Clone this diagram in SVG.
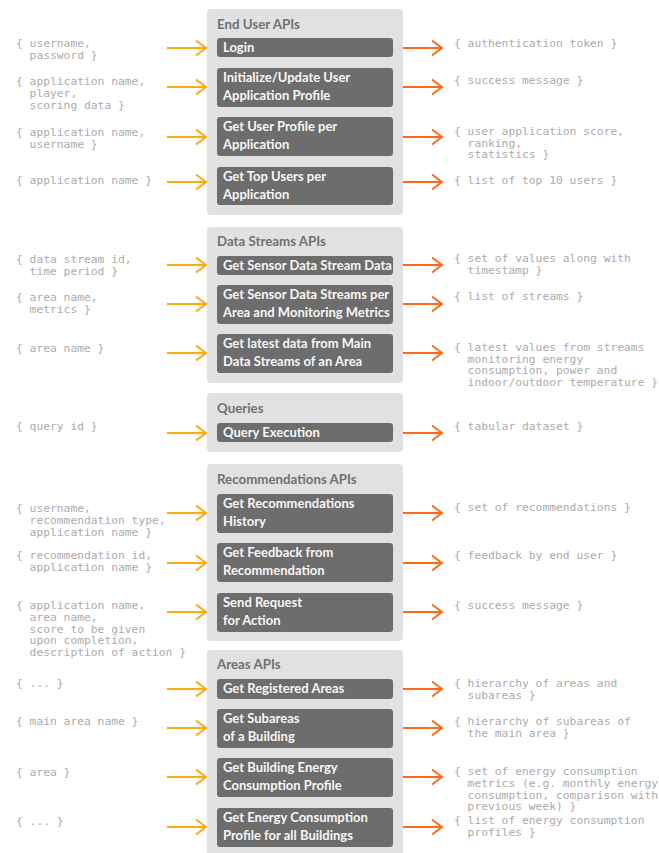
<svg xmlns="http://www.w3.org/2000/svg" width="659" height="853" viewBox="0 0 659 853">
<defs>
<style>
.panel{fill:#e1e1e1}
.box{fill:#6d6d6d}
.title{font-family:Lato,"Open Sans",sans-serif;font-weight:700;font-size:13.3px;fill:#707070}
.lbl{font-family:Lato,"Open Sans",sans-serif;font-weight:700;font-size:13px;fill:#f7f7f7}
.code{font-family:"DejaVu Sans Mono",monospace;font-size:11.3px;fill:#ababab}
.in{stroke:#ffa90a;stroke-width:2;fill:none}
.out{stroke:#ff6a13;stroke-width:2;fill:none}
</style>
<marker id="ahIn" markerUnits="userSpaceOnUse" markerWidth="14" markerHeight="20" refX="11" refY="9" orient="auto" overflow="visible">
<path d="M1,1.5 L11,9 L1,16.5" fill="none" stroke="#ffa90a" stroke-width="2"/>
</marker>
<marker id="ahOut" markerUnits="userSpaceOnUse" markerWidth="14" markerHeight="20" refX="11" refY="9" orient="auto" overflow="visible">
<path d="M1,1.5 L11,9 L1,16.5" fill="none" stroke="#ff6a13" stroke-width="2"/>
</marker>
</defs>
<rect width="659" height="853" fill="#ffffff"/>

<g id="panel-enduser">
<rect class="panel" x="207" y="9" width="196" height="206" rx="4"/>
<text class="title" x="217" y="29">End User APIs</text>
</g>
<g id="node-login"><rect class="box" x="217" y="38" width="176" height="19" rx="3"/><text class="lbl" x="223" y="52">Login</text></g>
<g id="node-init"><rect class="box" x="217" y="68" width="176" height="39" rx="3"/><text class="lbl" x="223" y="82">Initialize/Update User</text><text class="lbl" x="223" y="100">Application Profile</text></g>
<g id="node-userprofile"><rect class="box" x="217" y="117" width="176" height="39" rx="3"/><text class="lbl" x="223" y="131">Get User Profile per</text><text class="lbl" x="223" y="149">Application</text></g>
<g id="node-topusers"><rect class="box" x="217" y="167" width="176" height="38" rx="3"/><text class="lbl" x="223" y="181">Get Top Users per</text><text class="lbl" x="223" y="199">Application</text></g>

<g id="panel-datastreams">
<rect class="panel" x="207" y="227" width="196" height="156" rx="4"/>
<text class="title" x="217" y="246">Data Streams APIs</text>
</g>
<g id="node-sensordata"><rect class="box" x="217" y="256" width="176" height="19" rx="3"/><text class="lbl" x="223" y="270">Get Sensor Data Stream Data</text></g>
<g id="node-sensorstreams"><rect class="box" x="217" y="285" width="176" height="39" rx="3"/><text class="lbl" x="223" y="299">Get Sensor Data Streams per</text><text class="lbl" x="223" y="317">Area and Monitoring Metrics</text></g>
<g id="node-latest"><rect class="box" x="217" y="334" width="176" height="39" rx="3"/><text class="lbl" x="223" y="348">Get latest data from Main</text><text class="lbl" x="223" y="366">Data Streams of an Area</text></g>

<g id="panel-queries">
<rect class="panel" x="207" y="393" width="196" height="59" rx="4"/>
<text class="title" x="217" y="413">Queries</text>
</g>
<g id="node-query"><rect class="box" x="217" y="423" width="176" height="19" rx="3"/><text class="lbl" x="223" y="437">Query Execution</text></g>

<g id="panel-recommendations">
<rect class="panel" x="207" y="464" width="196" height="177" rx="4"/>
<text class="title" x="217" y="484">Recommendations APIs</text>
</g>
<g id="node-rechistory"><rect class="box" x="217" y="494" width="176" height="39" rx="3"/><text class="lbl" x="223" y="508">Get Recommendations</text><text class="lbl" x="223" y="526">History</text></g>
<g id="node-feedback"><rect class="box" x="217" y="543" width="176" height="39" rx="3"/><text class="lbl" x="223" y="557">Get Feedback from</text><text class="lbl" x="223" y="575">Recommendation</text></g>
<g id="node-request"><rect class="box" x="217" y="593" width="176" height="39" rx="3"/><text class="lbl" x="223" y="607">Send Request</text><text class="lbl" x="223" y="625">for Action</text></g>

<g id="panel-areas">
<rect class="panel" x="207" y="650" width="196" height="215" rx="4"/>
<text class="title" x="217" y="669">Areas APIs</text>
</g>
<g id="node-registered"><rect class="box" x="217" y="679" width="176" height="20" rx="3"/><text class="lbl" x="223" y="693">Get Registered Areas</text></g>
<g id="node-subareas"><rect class="box" x="217" y="709" width="176" height="39" rx="3"/><text class="lbl" x="223" y="723">Get Subareas</text><text class="lbl" x="223" y="741">of a Building</text></g>
<g id="node-buildingenergy"><rect class="box" x="217" y="758" width="176" height="39" rx="3"/><text class="lbl" x="223" y="772">Get Building Energy</text><text class="lbl" x="223" y="790">Consumption Profile</text></g>
<g id="node-allbuildings"><rect class="box" x="217" y="808" width="176" height="39" rx="3"/><text class="lbl" x="223" y="822">Get Energy Consumption</text><text class="lbl" x="223" y="840">Profile for all Buildings</text></g>

<g id="inputs">
<text class="code" x="16" y="47">{ username,</text>
<text class="code" x="29.6" y="58.5">password }</text>
<text class="code" x="16" y="85">{ application name,</text>
<text class="code" x="29.6" y="97">player,</text>
<text class="code" x="29.6" y="108.5">scoring data }</text>
<text class="code" x="16" y="136">{ application name,</text>
<text class="code" x="29.6" y="147.5">username }</text>
<text class="code" x="16" y="184">{ application name }</text>
<text class="code" x="16" y="263">{ data stream id,</text>
<text class="code" x="29.6" y="275">time period }</text>
<text class="code" x="16" y="301">{ area name,</text>
<text class="code" x="29.6" y="313">metrics }</text>
<text class="code" x="16" y="352">{ area name }</text>
<text class="code" x="16" y="430">{ query id }</text>
<text class="code" x="16" y="512">{ username,</text>
<text class="code" x="29.6" y="524">recommendation type,</text>
<text class="code" x="29.6" y="535.5">application name }</text>
<text class="code" x="16" y="559">{ recommendation id,</text>
<text class="code" x="29.6" y="571">application name }</text>
<text class="code" x="16" y="609">{ application name,</text>
<text class="code" x="29.6" y="621">area name,</text>
<text class="code" x="29.6" y="632.5">score to be given</text>
<text class="code" x="29.6" y="644">upon completion,</text>
<text class="code" x="29.6" y="655.5">description of action }</text>
<text class="code" x="16" y="687">{ ... }</text>
<text class="code" x="16" y="725">{ main area name }</text>
<text class="code" x="16" y="776">{ area }</text>
<text class="code" x="16" y="825">{ ... }</text>
</g>

<g id="outputs">
<text class="code" x="454" y="47">{ authentication token }</text>
<text class="code" x="454" y="84">{ success message }</text>
<text class="code" x="454" y="135">{ user application score,</text>
<text class="code" x="467.6" y="146.5">ranking,</text>
<text class="code" x="467.6" y="158">statistics }</text>
<text class="code" x="454" y="184">{ list of top 10 users }</text>
<text class="code" x="454" y="262">{ set of values along with</text>
<text class="code" x="467.6" y="274">timestamp }</text>
<text class="code" x="454" y="300">{ list of streams }</text>
<text class="code" x="454" y="351">{ latest values from streams</text>
<text class="code" x="467.6" y="362.5">monitoring energy</text>
<text class="code" x="467.6" y="374">consumption, power and</text>
<text class="code" x="467.6" y="385.5">indoor/outdoor temperature }</text>
<text class="code" x="454" y="430">{ tabular dataset }</text>
<text class="code" x="454" y="511">{ set of recommendations }</text>
<text class="code" x="454" y="559">{ feedback by end user }</text>
<text class="code" x="454" y="609">{ success message }</text>
<text class="code" x="454" y="687">{ hierarchy of areas and</text>
<text class="code" x="467.6" y="698.5">subareas }</text>
<text class="code" x="454" y="725">{ hierarchy of subareas of</text>
<text class="code" x="467.6" y="737">the main area }</text>
<text class="code" x="454" y="775">{ set of energy consumption</text>
<text class="code" x="467.6" y="787">metrics (e.g. monthly energy</text>
<text class="code" x="467.6" y="798.5">consumption, comparison with</text>
<text class="code" x="467.6" y="810">previous week) }</text>
<text class="code" x="454" y="824">{ list of energy consumption</text>
<text class="code" x="467.6" y="836">profiles }</text>
</g>

<g id="connectors">
<path class="in" marker-end="url(#ahIn)" d="M167,48 H206"/>
<path class="in" marker-end="url(#ahIn)" d="M167,87 H206"/>
<path class="in" marker-end="url(#ahIn)" d="M167,137 H206"/>
<path class="in" marker-end="url(#ahIn)" d="M167,182 H206"/>
<path class="in" marker-end="url(#ahIn)" d="M167,265 H206"/>
<path class="in" marker-end="url(#ahIn)" d="M167,304 H206"/>
<path class="in" marker-end="url(#ahIn)" d="M167,353 H206"/>
<path class="in" marker-end="url(#ahIn)" d="M167,433 H206"/>
<path class="in" marker-end="url(#ahIn)" d="M167,513 H206"/>
<path class="in" marker-end="url(#ahIn)" d="M167,563 H206"/>
<path class="in" marker-end="url(#ahIn)" d="M167,612 H206"/>
<path class="in" marker-end="url(#ahIn)" d="M167,689 H206"/>
<path class="in" marker-end="url(#ahIn)" d="M167,728 H206"/>
<path class="in" marker-end="url(#ahIn)" d="M167,777 H206"/>
<path class="in" marker-end="url(#ahIn)" d="M167,827 H206"/>
<path class="out" marker-end="url(#ahOut)" d="M403,48 H442"/>
<path class="out" marker-end="url(#ahOut)" d="M403,87 H442"/>
<path class="out" marker-end="url(#ahOut)" d="M403,137 H442"/>
<path class="out" marker-end="url(#ahOut)" d="M403,182 H442"/>
<path class="out" marker-end="url(#ahOut)" d="M403,265 H442"/>
<path class="out" marker-end="url(#ahOut)" d="M403,304 H442"/>
<path class="out" marker-end="url(#ahOut)" d="M403,353 H442"/>
<path class="out" marker-end="url(#ahOut)" d="M403,433 H442"/>
<path class="out" marker-end="url(#ahOut)" d="M403,513 H442"/>
<path class="out" marker-end="url(#ahOut)" d="M403,563 H442"/>
<path class="out" marker-end="url(#ahOut)" d="M403,612 H442"/>
<path class="out" marker-end="url(#ahOut)" d="M403,689 H442"/>
<path class="out" marker-end="url(#ahOut)" d="M403,728 H442"/>
<path class="out" marker-end="url(#ahOut)" d="M403,777 H442"/>
<path class="out" marker-end="url(#ahOut)" d="M403,827 H442"/>
</g>
</svg>
